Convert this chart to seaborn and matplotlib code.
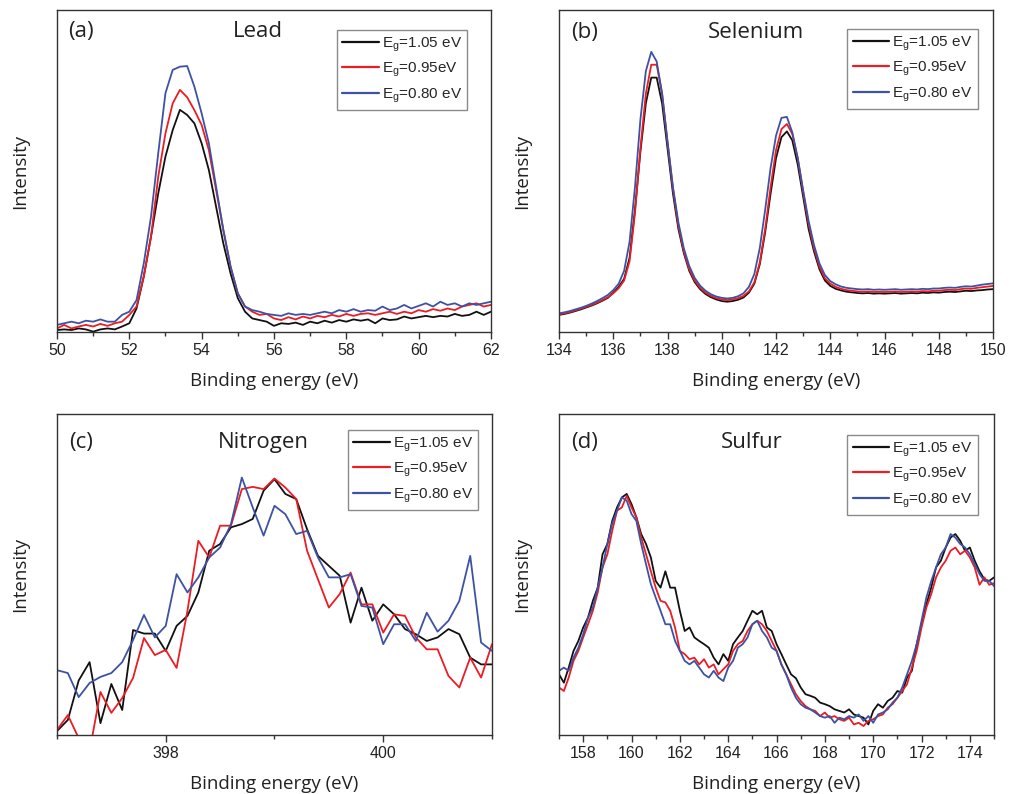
import numpy as np
import pandas as pd
import matplotlib
matplotlib.use("Agg")
import matplotlib.pyplot as plt
from matplotlib.ticker import MultipleLocator
import seaborn as sns

# ---------------- data ----------------
series_labels = ["E$_\\mathregular{g}$=1.05 eV",
                 "E$_\\mathregular{g}$=0.95eV",
                 "E$_\\mathregular{g}$=0.80 eV"]
series_colors = ["#111111", "#ec1c24", "#3d52a3"]

# (a) Lead
pb_energy = np.round(np.linspace(50, 62, 61), 2)
pb_105 = [0.6, 0.8, 0.6, 1.1, 0.8, 0.1, 0.8, 1.1, 0.8, 1.7,
          2.7, 7.3, 17.2, 29.6, 43.0, 54.5, 62.7, 69.0, 67.4, 64.8,
          58.6, 50.3, 38.9, 27.5, 18.2, 10.5, 6.3, 4.2, 3.7, 3.2,
          1.9, 2.7, 2.5, 2.9, 2.2, 3.2, 2.7, 3.5, 2.9, 3.7,
          3.2, 3.9, 3.5, 3.9, 2.7, 4.2, 3.7, 3.9, 4.8, 4.2,
          4.6, 5.0, 4.6, 5.0, 4.8, 5.6, 5.0, 5.3, 6.3, 5.3,
          6.3]
pb_095 = [1.1, 2.2, 1.1, 1.7, 2.2, 1.7, 2.5, 1.9, 2.7, 3.2,
          5.3, 7.9, 17.2, 29.6, 48.2, 61.7, 71.0, 75.2, 72.9, 68.9,
          64.3, 56.5, 44.1, 31.7, 20.3, 12.0, 7.9, 6.3, 5.3, 5.6,
          4.2, 3.7, 4.6, 3.9, 4.8, 4.2, 5.0, 4.6, 5.3, 4.8,
          5.6, 5.0, 5.6, 5.8, 5.3, 5.8, 6.3, 5.6, 6.3, 5.8,
          6.8, 6.3, 7.1, 6.6, 7.3, 6.8, 7.9, 8.4, 8.9, 7.9,
          8.4]
pb_080 = [2.2, 2.7, 3.2, 2.7, 3.5, 3.2, 3.9, 3.2, 3.2, 5.3,
          6.3, 9.9, 21.3, 35.8, 55.5, 74.2, 81.4, 82.4, 82.6, 76.2,
          67.9, 58.6, 45.1, 31.7, 20.3, 12.0, 7.9, 6.8, 6.3, 5.6,
          5.3, 5.0, 5.8, 5.3, 5.6, 5.3, 5.8, 6.3, 5.8, 6.8,
          6.3, 7.1, 6.3, 6.8, 6.6, 7.9, 6.8, 7.3, 8.4, 7.3,
          8.1, 8.9, 7.9, 9.4, 8.4, 8.9, 7.9, 8.9, 8.4, 8.9,
          9.4]

# (b) Selenium
se_energy = np.round(np.linspace(134, 150, 81), 2)
se_105 = [5.3, 5.6, 6.0, 6.5, 7.0, 7.6, 8.2, 8.9, 9.7, 10.6,
          12.2, 14.0, 16.5, 23.0, 38.0, 56.0, 71.0, 79.0, 79.0, 71.0,
          57.0, 43.0, 32.0, 24.5, 19.0, 15.5, 13.3, 11.8, 10.8, 10.1,
          9.6, 9.4, 9.6, 10.0, 10.7, 12.2, 15.0, 21.0, 31.0, 43.0,
          54.0, 60.5, 62.3, 59.5, 52.0, 42.0, 32.0, 25.0, 19.5, 16.0,
          14.3, 13.4, 12.9, 12.5, 12.3, 12.1, 12.0, 12.1, 11.9, 12.0,
          11.9, 12.0, 12.1, 11.9, 12.0, 12.1, 12.0, 12.2, 12.1, 12.3,
          12.2, 12.4, 12.5, 12.4, 12.6, 12.8, 12.7, 12.9, 13.0, 13.2,
          13.3]
se_095 = [5.5, 5.8, 6.2, 6.7, 7.2, 7.8, 8.4, 9.1, 9.9, 10.8,
          12.0, 13.6, 16.0, 22.0, 37.0, 57.0, 74.0, 83.0, 83.0, 74.0,
          59.0, 44.5, 33.0, 25.0, 19.5, 16.0, 13.7, 12.2, 11.2, 10.5,
          10.1, 9.9, 10.1, 10.5, 11.2, 12.6, 15.4, 21.5, 32.0, 45.0,
          56.5, 63.0, 64.6, 61.5, 54.0, 43.5, 33.5, 26.0, 20.3, 16.7,
          15.0, 14.0, 13.4, 13.0, 12.8, 12.6, 12.5, 12.6, 12.4, 12.5,
          12.4, 12.5, 12.6, 12.4, 12.5, 12.6, 12.5, 12.7, 12.6, 12.8,
          12.8, 13.0, 13.1, 13.0, 13.3, 13.5, 13.4, 13.7, 13.9, 14.1,
          14.3]
se_080 = [5.8, 6.1, 6.5, 7.0, 7.5, 8.1, 8.8, 9.6, 10.5, 11.5,
          13.0, 15.0, 19.0, 28.0, 45.0, 66.0, 81.0, 87.0, 84.0, 74.0,
          59.0, 45.0, 34.0, 26.0, 20.5, 16.8, 14.4, 12.8, 11.7, 11.0,
          10.6, 10.4, 10.6, 11.1, 12.0, 14.0, 18.0, 26.0, 38.0, 51.0,
          61.0, 66.5, 66.8, 62.0, 54.0, 44.0, 34.5, 27.0, 21.3, 17.7,
          15.8, 14.8, 14.1, 13.7, 13.5, 13.3, 13.2, 13.3, 13.1, 13.2,
          13.1, 13.2, 13.3, 13.1, 13.2, 13.3, 13.2, 13.4, 13.3, 13.5,
          13.5, 13.7, 13.8, 13.7, 14.0, 14.2, 14.1, 14.4, 14.7, 14.9,
          15.1]

# (c) Nitrogen
n_energy = np.round(np.linspace(397, 401, 41), 2)
n_105 = [1.2, 4.7, 17.0, 22.7, 3.7, 15.9, 7.8, 32.7, 31.6, 31.6,
         26.2, 34.0, 37.1, 44.4, 57.4, 59.5, 64.7, 65.7, 67.3, 76.1,
         79.7, 75.1, 73.5, 64.1, 55.8, 52.7, 49.6, 35.0, 45.9, 35.6,
         40.7, 37.6, 33.0, 31.4, 29.3, 30.4, 33.0, 31.4, 24.1, 22.0,
         22.0]
n_095 = [1.6, 6.2, -1.0, -5.0, 13.4, 6.9, 11.5, 17.8, 30.2, 24.9,
         26.5, 20.9, 38.7, 60.5, 55.3, 65.2, 65.2, 76.6, 77.3, 76.6,
         79.9, 77.1, 73.5, 57.4, 48.5, 39.7, 43.9, 50.6, 40.7, 40.7,
         31.9, 37.6, 37.1, 30.4, 26.7, 26.7, 18.4, 14.8, 24.1, 17.9,
         28.3]
n_080 = [20.2, 19.3, 11.8, 16.2, 18.1, 19.3, 22.7, 29.6, 37.4, 30.4,
         34.0, 50.1, 44.4, 49.1, 55.3, 58.4, 65.7, 80.2, 70.9, 62.1,
         71.4, 68.8, 62.6, 63.6, 55.3, 49.1, 49.1, 50.1, 40.2, 39.7,
         28.3, 34.5, 34.5, 29.3, 38.1, 32.2, 35.6, 41.8, 55.8, 28.8,
         26.2]

# (d) Sulfur
s_energy = np.round(np.linspace(157, 175, 91), 2)
s_105 = [18.9, 16.3, 21.0, 26.2, 29.3, 33.5, 36.6, 41.8, 45.9, 56.3,
         59.5, 66.7, 70.9, 74.0, 75.1, 71.9, 67.8, 62.6, 59.5, 55.3,
         48.0, 45.9, 51.0, 45.9, 45.9, 38.7, 32.4, 33.5, 30.4, 29.3,
         28.3, 27.2, 24.1, 22.0, 25.2, 23.1, 28.3, 30.4, 32.4, 35.6,
         38.7, 37.6, 38.7, 33.5, 32.4, 28.3, 25.2, 22.0, 18.9, 17.7,
         14.8, 12.7, 12.2, 11.6, 10.1, 9.6, 9.0, 8.0, 7.5, 7.0,
         8.0, 6.4, 5.9, 5.4, 3.3, 7.5, 9.6, 8.5, 10.6, 11.6,
         13.7, 13.2, 17.9, 20.0, 28.3, 34.5, 40.7, 45.9, 52.2, 54.3,
         58.4, 61.5, 62.6, 60.5, 57.4, 58.4, 54.3, 51.0, 48.5, 48.0,
         49.1]
s_095 = [14.8, 13.7, 17.9, 23.1, 26.2, 30.4, 34.5, 38.7, 44.4, 52.2,
         56.3, 63.6, 69.9, 70.9, 74.5, 70.9, 67.8, 61.5, 56.3, 51.0,
         45.9, 41.8, 41.3, 38.7, 33.5, 26.2, 25.2, 23.6, 24.1, 22.0,
         23.6, 21.0, 22.0, 18.9, 20.5, 22.0, 26.2, 28.3, 29.3, 32.4,
         34.5, 35.6, 34.5, 32.4, 29.3, 26.2, 22.0, 18.9, 15.8, 12.7,
         10.6, 9.0, 8.0, 7.5, 5.9, 7.0, 5.4, 5.9, 4.9, 4.4,
         5.4, 3.3, 3.8, 2.8, 4.4, 4.9, 5.9, 6.4, 8.5, 9.6,
         11.6, 13.7, 15.8, 21.0, 26.2, 33.5, 39.7, 43.9, 49.1, 52.2,
         54.3, 57.4, 58.4, 56.3, 57.4, 55.3, 52.2, 46.8, 49.1, 46.8,
         47.3]
s_080 = [20.0, 21.0, 20.0, 24.1, 27.2, 31.4, 36.6, 39.7, 45.9, 52.2,
         59.5, 65.9, 69.9, 74.0, 73.0, 68.8, 66.7, 59.5, 53.2, 47.0,
         42.8, 38.7, 34.5, 34.5, 29.3, 26.2, 23.1, 22.0, 23.1, 21.0,
         18.9, 17.9, 20.0, 17.9, 16.8, 21.0, 23.1, 27.2, 28.3, 30.4,
         34.5, 35.6, 32.4, 30.4, 27.2, 26.2, 22.0, 18.9, 14.8, 11.6,
         9.6, 8.5, 8.0, 7.0, 5.9, 5.4, 5.9, 3.8, 5.4, 4.9,
         5.9, 5.4, 6.4, 4.4, 5.9, 3.8, 6.4, 7.0, 8.0, 10.1,
         11.6, 14.8, 18.9, 23.1, 28.3, 35.6, 42.8, 47.9, 52.2, 56.3,
         58.4, 62.6, 61.5, 59.5, 58.4, 56.3, 53.2, 50.1, 48.0, 48.0,
         46.4]

panels = [
    dict(tag="(a)", name="Lead", x=pb_energy, ys=[pb_105, pb_095, pb_080],
         xlim=(50, 62), major=2, minor=1,
         rect=[0.0564, 0.5819, 0.4297, 0.4055],
         tagpos=(0.025, 0.932), namepos=(0.463, 0.932), leg=(0.945, 0.938)),
    dict(tag="(b)", name="Selenium", x=se_energy, ys=[se_105, se_095, se_080],
         xlim=(134, 150), major=2, minor=1,
         rect=[0.5535, 0.5819, 0.4297, 0.4055],
         tagpos=(0.028, 0.929), namepos=(0.454, 0.929), leg=(0.965, 0.941)),
    dict(tag="(c)", name="Nitrogen", x=n_energy, ys=[n_105, n_095, n_080],
         xlim=(397, 401), major=2, minor=1,
         rect=[0.0564, 0.0743, 0.4307, 0.4043],
         tagpos=(0.028, 0.91), namepos=(0.474, 0.91), leg=(0.968, 0.95)),
    dict(tag="(d)", name="Sulfur", x=s_energy, ys=[s_105, s_095, s_080],
         xlim=(157, 175), major=2, minor=1,
         rect=[0.5535, 0.0743, 0.4307, 0.4043],
         tagpos=(0.028, 0.91), namepos=(0.4425, 0.91), leg=(0.963, 0.935)),
]

# ---------------- style ----------------
sns.set_theme(style="ticks")
plt.rcParams["font.family"] = ["Liberation Sans", "DejaVu Sans"]
plt.rcParams["mathtext.fontset"] = "custom"
plt.rcParams["mathtext.rm"] = "Liberation Sans"
label_font = "Open Sans"
spine_color = "#333333"

fig = plt.figure(figsize=(10.1, 7.94), dpi=100)
palette = dict(zip(series_labels, series_colors))

for p in panels:
    ax = fig.add_axes(p["rect"])
    frames = [pd.DataFrame({"energy": p["x"], "intensity": y, "series": lab})
              for lab, y in zip(series_labels, p["ys"])]
    df = pd.concat(frames, ignore_index=True)
    sns.lineplot(data=df, x="energy", y="intensity", hue="series",
                 hue_order=series_labels, palette=palette, ax=ax,
                 linewidth=1.3, estimator=None, sort=False)
    ax.set_xlim(*p["xlim"])
    ax.set_ylim(0, 100)
    ax.set_yticks([])
    ax.xaxis.set_major_locator(MultipleLocator(p["major"]))
    ax.xaxis.set_minor_locator(MultipleLocator(p["minor"]))
    ax.tick_params(axis="x", which="major", direction="out", length=5,
                   width=1, color=spine_color, labelsize=11.5, pad=3,
                   labelcolor="#222222")
    ax.tick_params(axis="x", which="minor", direction="out", length=3,
                   width=1, color=spine_color)
    for s in ax.spines.values():
        s.set_visible(True)
        s.set_color(spine_color)
        s.set_linewidth(1.0)
    ax.set_xlabel("Binding energy (eV)", family=label_font, fontsize=13.5,
                  labelpad=10, color="#222222")
    ax.set_ylabel("Intensity", family=label_font, fontsize=13.5,
                  labelpad=20, color="#222222")
    ax.text(*p["tagpos"], p["tag"], transform=ax.transAxes, family=label_font,
            fontsize=16, va="center", ha="left", color="#222222")
    ax.text(*p["namepos"], p["name"], transform=ax.transAxes, family=label_font,
            fontsize=16, va="center", ha="center", color="#222222")
    handles, labels = ax.get_legend_handles_labels()
    leg = ax.legend(handles, labels, loc="upper right",
                    bbox_to_anchor=p["leg"], frameon=True, fancybox=False,
                    edgecolor="#8a8a8a", framealpha=1, fontsize=11,
                    handlelength=2.4, handletextpad=0.2, borderpad=0.35,
                    labelspacing=0.45, borderaxespad=0)
    leg.get_frame().set_linewidth(1.0)
    for line in leg.get_lines():
        line.set_linewidth(1.6)

fig.savefig("out.png", dpi=100)
